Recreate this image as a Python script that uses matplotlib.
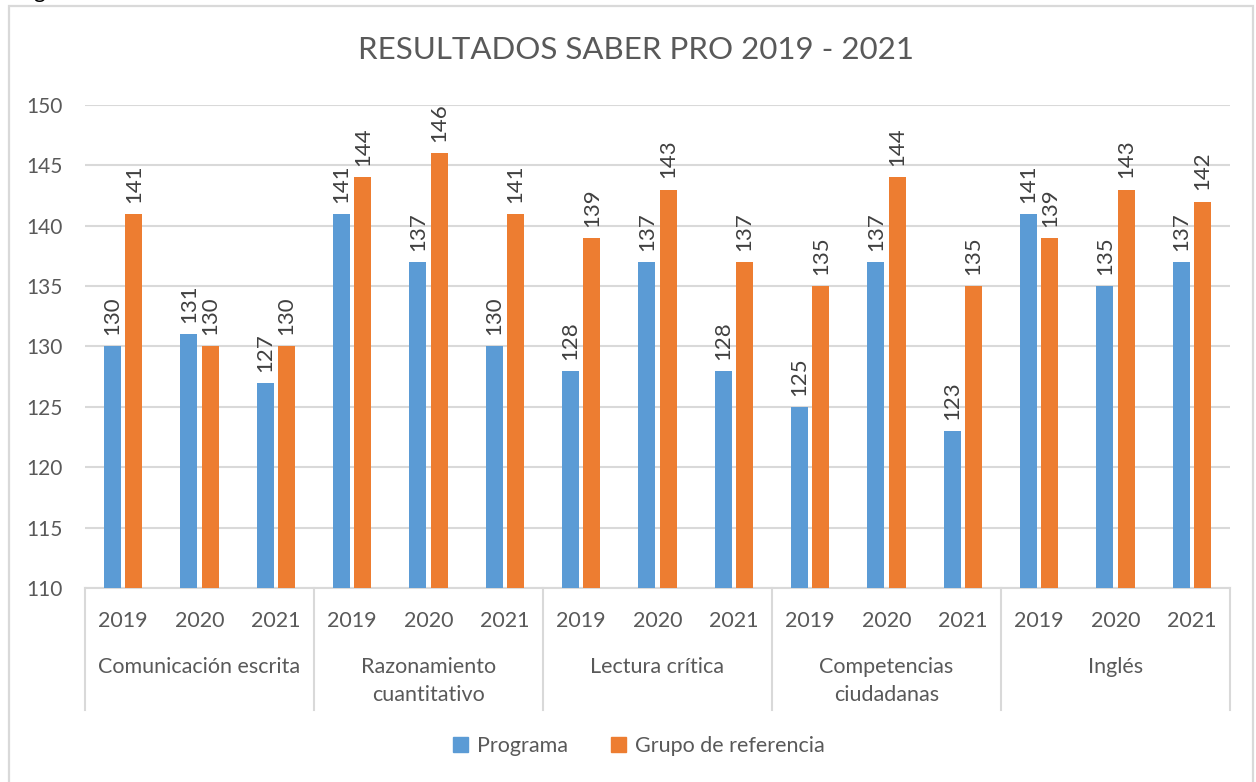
import matplotlib.pyplot as plt
import numpy as np
from matplotlib.patches import Patch, Rectangle

plt.rcParams['font.family'] = ['Lato', 'DejaVu Sans']

categories = ['Comunicación escrita', 'Razonamiento\ncuantitativo', 'Lectura crítica',
              'Competencias\nciudadanas', 'Inglés']
years = ['2019', '2020', '2021']
programa = [130, 131, 127, 141, 137, 130, 128, 137, 128, 125, 137, 123, 141, 135, 137]
grupo = [141, 130, 130, 144, 146, 141, 139, 143, 137, 135, 144, 135, 139, 143, 142]

blue = '#5B9BD5'
orange = '#ED7D31'
txt = '#595959'

fig = plt.figure(figsize=(12.56, 7.82), dpi=100)
fig.patches.append(Rectangle((9 / 1256, -0.1), 1244 / 1256, 1.1 - 6 / 782, transform=fig.transFigure,
                             fill=False, edgecolor='#d9d9d9', linewidth=1.6))
# cut-off caption letter at the top left (as in the source image)
fig.text(33 / 1256, 1.003, 'g', va='baseline', ha='left', fontsize=16, color='black')

ax = fig.add_axes([85 / 1256, 1 - 588 / 782, (1230 - 85) / 1256, (588 - 105) / 782])

x = np.arange(len(programa))
w = 0.22
off = 0.14
ax.bar(x - off, programa, w, color=blue, zorder=3)
ax.bar(x + off, grupo, w, color=orange, zorder=3)

for xs, vals in [(x - off, programa), (x + off, grupo)]:
    for xi, v in zip(xs, vals):
        ax.annotate(str(v), (xi, v), xytext=(0, 8), textcoords='offset points',
                    rotation=90, ha='center', va='bottom', fontsize=16, color='#404040',
                    annotation_clip=False)

ax.set_ylim(110, 150)
ax.set_xlim(-0.5, len(programa) - 0.5)
ax.set_yticks(np.arange(110, 151, 5))
ax.yaxis.grid(True, color='#d9d9d9', linewidth=1.5, zorder=0)
ax.tick_params(axis='y', length=0, pad=16, labelsize=15, labelcolor=txt)
ax.set_xticks([])
for s in ['top', 'right', 'left']:
    ax.spines[s].set_visible(False)
ax.spines['bottom'].set_color('#d9d9d9')
ax.spines['bottom'].set_linewidth(1.5)

trans = ax.get_xaxis_transform()
for i in range(len(programa)):
    ax.text(i, -0.068, years[i % 3], transform=trans, ha='center', va='center',
            fontsize=15.5, color=txt)
for j, cat in enumerate(categories):
    ax.text(3 * j + 1, -0.143, cat, transform=trans, ha='center', va='top',
            fontsize=15.5, color=txt, linespacing=1.5)
for k in range(len(categories) + 1):
    ax.plot([3 * k - 0.5, 3 * k - 0.5], [0, -0.2526], transform=trans, color='#d9d9d9',
            linewidth=1.5, clip_on=False)

fig.text(0.506, 1 - 50 / 782, 'RESULTADOS SABER PRO 2019 - 2021', ha='center', va='center',
         fontsize=22.5, color=txt)

handles = [Patch(color=blue, label='Programa'), Patch(color=orange, label='Grupo de referencia')]
fig.legend(handles=handles, loc='center', bbox_to_anchor=(639 / 1256, 1 - 746 / 782), ncol=2,
           frameon=False, fontsize=15.5, handlelength=0.7, handleheight=0.7, handletextpad=0.4,
           columnspacing=2.0, labelcolor=txt)

fig.savefig('out.png', dpi=100)
